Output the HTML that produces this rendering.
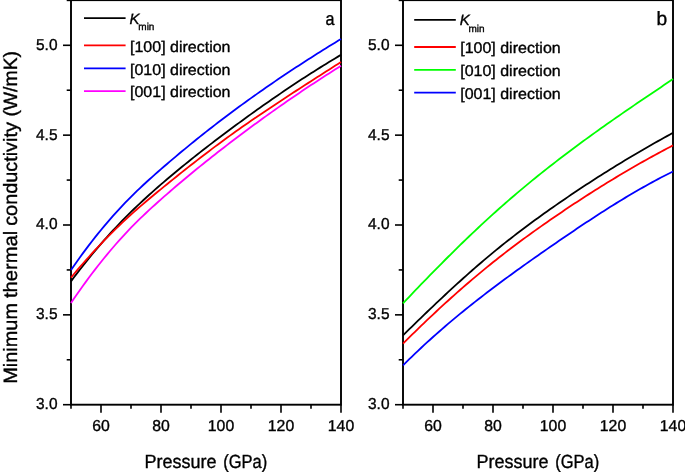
<!DOCTYPE html>
<html><head><meta charset="utf-8"><style>
html,body{margin:0;padding:0;background:#fff;}
svg{display:block;will-change:transform;}
text{font-family:"Liberation Sans",sans-serif;fill:#000;stroke:#000;stroke-width:0.35px;text-rendering:geometricPrecision;}
.tl{font-size:15.8px;}
.ttl{font-size:19px;}
.yl{font-size:19.3px;}
.lg{font-size:15.4px;}
.pl{font-size:19.2px;}
</style></head><body>
<svg width="685" height="474" viewBox="0 0 685 474">
<rect width="685" height="474" fill="#fff"/>
<rect x="71.0" y="0.15" width="270" height="404.55" fill="none" stroke="#000" stroke-width="1.9"/>
<line x1="63.0" y1="404.70" x2="71.0" y2="404.70" stroke="#000" stroke-width="1.6"/>
<text x="57.5" y="409.10" class="tl" text-anchor="end" textLength="21.5" lengthAdjust="spacingAndGlyphs">3.0</text>
<line x1="66.7" y1="359.77" x2="71.0" y2="359.77" stroke="#000" stroke-width="1.6"/>
<line x1="63.0" y1="314.85" x2="71.0" y2="314.85" stroke="#000" stroke-width="1.6"/>
<text x="57.5" y="319.25" class="tl" text-anchor="end" textLength="21.5" lengthAdjust="spacingAndGlyphs">3.5</text>
<line x1="66.7" y1="269.93" x2="71.0" y2="269.93" stroke="#000" stroke-width="1.6"/>
<line x1="63.0" y1="225.00" x2="71.0" y2="225.00" stroke="#000" stroke-width="1.6"/>
<text x="57.5" y="229.40" class="tl" text-anchor="end" textLength="21.5" lengthAdjust="spacingAndGlyphs">4.0</text>
<line x1="66.7" y1="180.07" x2="71.0" y2="180.07" stroke="#000" stroke-width="1.6"/>
<line x1="63.0" y1="135.15" x2="71.0" y2="135.15" stroke="#000" stroke-width="1.6"/>
<text x="57.5" y="139.55" class="tl" text-anchor="end" textLength="21.5" lengthAdjust="spacingAndGlyphs">4.5</text>
<line x1="66.7" y1="90.23" x2="71.0" y2="90.23" stroke="#000" stroke-width="1.6"/>
<line x1="63.0" y1="45.30" x2="71.0" y2="45.30" stroke="#000" stroke-width="1.6"/>
<text x="57.5" y="49.70" class="tl" text-anchor="end" textLength="21.5" lengthAdjust="spacingAndGlyphs">5.0</text>
<line x1="66.7" y1="0.38" x2="71.0" y2="0.38" stroke="#000" stroke-width="1.6"/>
<line x1="71.0" y1="404.70" x2="71.0" y2="408.70" stroke="#000" stroke-width="1.6"/>
<line x1="101.0" y1="404.70" x2="101.0" y2="412.70" stroke="#000" stroke-width="1.6"/>
<text x="101.0" y="430.60" class="tl" text-anchor="middle">60</text>
<line x1="131.0" y1="404.70" x2="131.0" y2="408.70" stroke="#000" stroke-width="1.6"/>
<line x1="161.0" y1="404.70" x2="161.0" y2="412.70" stroke="#000" stroke-width="1.6"/>
<text x="161.0" y="430.60" class="tl" text-anchor="middle">80</text>
<line x1="191.0" y1="404.70" x2="191.0" y2="408.70" stroke="#000" stroke-width="1.6"/>
<line x1="221.0" y1="404.70" x2="221.0" y2="412.70" stroke="#000" stroke-width="1.6"/>
<text x="221.0" y="430.60" class="tl" text-anchor="middle">100</text>
<line x1="251.0" y1="404.70" x2="251.0" y2="408.70" stroke="#000" stroke-width="1.6"/>
<line x1="281.0" y1="404.70" x2="281.0" y2="412.70" stroke="#000" stroke-width="1.6"/>
<text x="281.0" y="430.60" class="tl" text-anchor="middle">120</text>
<line x1="311.0" y1="404.70" x2="311.0" y2="408.70" stroke="#000" stroke-width="1.6"/>
<line x1="341.0" y1="404.70" x2="341.0" y2="412.70" stroke="#000" stroke-width="1.6"/>
<text x="341.0" y="430.60" class="tl" text-anchor="middle">140</text>
<text x="144.40" y="467.6" class="ttl" textLength="72.10" lengthAdjust="spacingAndGlyphs">Pressure</text>
<text x="223.30" y="467.6" class="ttl" textLength="44.00" lengthAdjust="spacingAndGlyphs">(GPa)</text>
<text x="325.40" y="25" class="pl" style="font-size:18.4px" textLength="9.0" lengthAdjust="spacingAndGlyphs">a</text>
<line x1="84.0" y1="18.20" x2="125.6" y2="18.20" stroke="#000000" stroke-width="1.8"/>
<text x="129.5" y="23.80" class="lg"><tspan font-style="italic" font-size="15">K</tspan><tspan font-size="10" dx="-1.2" dy="6.2">min</tspan></text>
<line x1="84.0" y1="45.40" x2="125.6" y2="45.40" stroke="#ff0000" stroke-width="1.8"/>
<text x="130.0" y="51.60" class="lg" textLength="100.5" lengthAdjust="spacingAndGlyphs">[100] direction</text>
<line x1="84.0" y1="68.30" x2="125.6" y2="68.30" stroke="#0000ff" stroke-width="1.8"/>
<text x="130.0" y="74.50" class="lg" textLength="100.5" lengthAdjust="spacingAndGlyphs">[010] direction</text>
<line x1="84.0" y1="91.10" x2="125.6" y2="91.10" stroke="#ff00ff" stroke-width="1.8"/>
<text x="130.0" y="97.30" class="lg" textLength="100.5" lengthAdjust="spacingAndGlyphs">[001] direction</text>
<rect x="403.0" y="0.15" width="270" height="404.55" fill="none" stroke="#000" stroke-width="1.9"/>
<line x1="395.0" y1="404.70" x2="403.0" y2="404.70" stroke="#000" stroke-width="1.6"/>
<text x="389.5" y="409.10" class="tl" text-anchor="end" textLength="21.5" lengthAdjust="spacingAndGlyphs">3.0</text>
<line x1="398.7" y1="359.77" x2="403.0" y2="359.77" stroke="#000" stroke-width="1.6"/>
<line x1="395.0" y1="314.85" x2="403.0" y2="314.85" stroke="#000" stroke-width="1.6"/>
<text x="389.5" y="319.25" class="tl" text-anchor="end" textLength="21.5" lengthAdjust="spacingAndGlyphs">3.5</text>
<line x1="398.7" y1="269.93" x2="403.0" y2="269.93" stroke="#000" stroke-width="1.6"/>
<line x1="395.0" y1="225.00" x2="403.0" y2="225.00" stroke="#000" stroke-width="1.6"/>
<text x="389.5" y="229.40" class="tl" text-anchor="end" textLength="21.5" lengthAdjust="spacingAndGlyphs">4.0</text>
<line x1="398.7" y1="180.07" x2="403.0" y2="180.07" stroke="#000" stroke-width="1.6"/>
<line x1="395.0" y1="135.15" x2="403.0" y2="135.15" stroke="#000" stroke-width="1.6"/>
<text x="389.5" y="139.55" class="tl" text-anchor="end" textLength="21.5" lengthAdjust="spacingAndGlyphs">4.5</text>
<line x1="398.7" y1="90.23" x2="403.0" y2="90.23" stroke="#000" stroke-width="1.6"/>
<line x1="395.0" y1="45.30" x2="403.0" y2="45.30" stroke="#000" stroke-width="1.6"/>
<text x="389.5" y="49.70" class="tl" text-anchor="end" textLength="21.5" lengthAdjust="spacingAndGlyphs">5.0</text>
<line x1="398.7" y1="0.38" x2="403.0" y2="0.38" stroke="#000" stroke-width="1.6"/>
<line x1="403.0" y1="404.70" x2="403.0" y2="408.70" stroke="#000" stroke-width="1.6"/>
<line x1="433.0" y1="404.70" x2="433.0" y2="412.70" stroke="#000" stroke-width="1.6"/>
<text x="433.0" y="430.60" class="tl" text-anchor="middle">60</text>
<line x1="463.0" y1="404.70" x2="463.0" y2="408.70" stroke="#000" stroke-width="1.6"/>
<line x1="493.0" y1="404.70" x2="493.0" y2="412.70" stroke="#000" stroke-width="1.6"/>
<text x="493.0" y="430.60" class="tl" text-anchor="middle">80</text>
<line x1="523.0" y1="404.70" x2="523.0" y2="408.70" stroke="#000" stroke-width="1.6"/>
<line x1="553.0" y1="404.70" x2="553.0" y2="412.70" stroke="#000" stroke-width="1.6"/>
<text x="553.0" y="430.60" class="tl" text-anchor="middle">100</text>
<line x1="583.0" y1="404.70" x2="583.0" y2="408.70" stroke="#000" stroke-width="1.6"/>
<line x1="613.0" y1="404.70" x2="613.0" y2="412.70" stroke="#000" stroke-width="1.6"/>
<text x="613.0" y="430.60" class="tl" text-anchor="middle">120</text>
<line x1="643.0" y1="404.70" x2="643.0" y2="408.70" stroke="#000" stroke-width="1.6"/>
<line x1="673.0" y1="404.70" x2="673.0" y2="412.70" stroke="#000" stroke-width="1.6"/>
<text x="673.0" y="430.60" class="tl" text-anchor="middle">140</text>
<text x="476.40" y="467.6" class="ttl" textLength="72.10" lengthAdjust="spacingAndGlyphs">Pressure</text>
<text x="555.30" y="467.6" class="ttl" textLength="44.00" lengthAdjust="spacingAndGlyphs">(GPa)</text>
<text x="667.2" y="25" class="pl" text-anchor="end">b</text>
<line x1="414.2" y1="19.80" x2="455.8" y2="19.80" stroke="#000000" stroke-width="1.8"/>
<text x="459.7" y="25.40" class="lg"><tspan font-style="italic" font-size="15">K</tspan><tspan font-size="10" dx="-1.2" dy="6.2">min</tspan></text>
<line x1="414.2" y1="47.00" x2="455.8" y2="47.00" stroke="#ff0000" stroke-width="1.8"/>
<text x="460.2" y="53.20" class="lg" textLength="100.5" lengthAdjust="spacingAndGlyphs">[100] direction</text>
<line x1="414.2" y1="69.90" x2="455.8" y2="69.90" stroke="#00ff00" stroke-width="1.8"/>
<text x="460.2" y="76.10" class="lg" textLength="100.5" lengthAdjust="spacingAndGlyphs">[010] direction</text>
<line x1="414.2" y1="92.70" x2="455.8" y2="92.70" stroke="#0000ff" stroke-width="1.8"/>
<text x="460.2" y="98.90" class="lg" textLength="100.5" lengthAdjust="spacingAndGlyphs">[001] direction</text>
<polyline fill="none" stroke="#0000ff" stroke-width="1.8" stroke-linejoin="round" points="71.00,270.03 74.00,265.69 77.00,261.43 80.00,257.25 83.00,253.14 86.00,249.10 89.00,245.14 92.00,241.25 95.00,237.42 98.00,233.67 101.00,229.99 104.00,226.38 107.00,222.83 110.00,219.36 113.00,215.95 116.00,212.60 119.00,209.32 122.00,206.10 125.00,202.95 128.00,199.86 131.00,196.83 134.00,193.86 137.00,190.95 140.00,188.08 143.00,185.27 146.00,182.50 149.00,179.77 152.00,177.08 155.00,174.41 158.00,171.77 161.00,169.15 164.00,166.55 167.00,163.97 170.00,161.41 173.00,158.86 176.00,156.32 179.00,153.81 182.00,151.31 185.00,148.83 188.00,146.36 191.00,143.91 194.00,141.48 197.00,139.06 200.00,136.66 203.00,134.27 206.00,131.90 209.00,129.54 212.00,127.20 215.00,124.88 218.00,122.57 221.00,120.28 224.00,118.00 227.00,115.73 230.00,113.48 233.00,111.25 236.00,109.02 239.00,106.82 242.00,104.62 245.00,102.44 248.00,100.28 251.00,98.13 254.00,95.99 257.00,93.86 260.00,91.75 263.00,89.65 266.00,87.56 269.00,85.49 272.00,83.42 275.00,81.37 278.00,79.33 281.00,77.31 284.00,75.29 287.00,73.29 290.00,71.30 293.00,69.32 296.00,67.35 299.00,65.39 302.00,63.44 305.00,61.50 308.00,59.57 311.00,57.66 314.00,55.75 317.00,53.85 320.00,51.96 323.00,50.09 326.00,48.22 329.00,46.36 332.00,44.51 335.00,42.67 338.00,40.83 341.00,39.01"/>
<polyline fill="none" stroke="#000000" stroke-width="1.8" stroke-linejoin="round" points="71.00,281.35 74.00,277.32 77.00,273.35 80.00,269.45 83.00,265.60 86.00,261.83 89.00,258.11 92.00,254.45 95.00,250.85 98.00,247.31 101.00,243.83 104.00,240.40 107.00,237.03 110.00,233.71 113.00,230.45 116.00,227.24 119.00,224.07 122.00,220.96 125.00,217.90 128.00,214.89 131.00,211.92 134.00,209.00 137.00,206.13 140.00,203.29 143.00,200.50 146.00,197.74 149.00,195.02 152.00,192.33 155.00,189.67 158.00,187.04 161.00,184.43 164.00,181.84 167.00,179.28 170.00,176.74 173.00,174.23 176.00,171.73 179.00,169.25 182.00,166.79 185.00,164.35 188.00,161.93 191.00,159.52 194.00,157.13 197.00,154.76 200.00,152.40 203.00,150.06 206.00,147.73 209.00,145.41 212.00,143.11 215.00,140.82 218.00,138.54 221.00,136.27 224.00,134.01 227.00,131.76 230.00,129.52 233.00,127.29 236.00,125.07 239.00,122.87 242.00,120.67 245.00,118.48 248.00,116.31 251.00,114.14 254.00,111.99 257.00,109.85 260.00,107.71 263.00,105.59 266.00,103.49 269.00,101.39 272.00,99.30 275.00,97.23 278.00,95.17 281.00,93.12 284.00,91.08 287.00,89.06 290.00,87.05 293.00,85.05 296.00,83.06 299.00,81.08 302.00,79.12 305.00,77.17 308.00,75.24 311.00,73.31 314.00,71.40 317.00,69.51 320.00,67.62 323.00,65.75 326.00,63.90 329.00,62.05 332.00,60.23 335.00,58.41 338.00,56.61 341.00,54.82"/>
<polyline fill="none" stroke="#ff0000" stroke-width="1.8" stroke-linejoin="round" points="71.00,277.57 74.00,273.99 77.00,270.45 80.00,266.95 83.00,263.51 86.00,260.11 89.00,256.76 92.00,253.46 95.00,250.21 98.00,246.99 101.00,243.83 104.00,240.71 107.00,237.64 110.00,234.61 113.00,231.62 116.00,228.68 119.00,225.78 122.00,222.93 125.00,220.11 128.00,217.34 131.00,214.62 134.00,211.93 137.00,209.29 140.00,206.68 143.00,204.10 146.00,201.55 149.00,199.02 152.00,196.52 155.00,194.03 158.00,191.56 161.00,189.10 164.00,186.65 167.00,184.21 170.00,181.78 173.00,179.35 176.00,176.94 179.00,174.54 182.00,172.15 185.00,169.76 188.00,167.39 191.00,165.04 194.00,162.69 197.00,160.36 200.00,158.04 203.00,155.73 206.00,153.44 209.00,151.16 212.00,148.90 215.00,146.65 218.00,144.42 221.00,142.20 224.00,140.00 227.00,137.81 230.00,135.64 233.00,133.49 236.00,131.35 239.00,129.22 242.00,127.11 245.00,125.01 248.00,122.92 251.00,120.85 254.00,118.78 257.00,116.73 260.00,114.69 263.00,112.66 266.00,110.64 269.00,108.63 272.00,106.63 275.00,104.63 278.00,102.65 281.00,100.67 284.00,98.70 287.00,96.73 290.00,94.78 293.00,92.82 296.00,90.88 299.00,88.93 302.00,87.00 305.00,85.06 308.00,83.13 311.00,81.21 314.00,79.28 317.00,77.36 320.00,75.44 323.00,73.52 326.00,71.61 329.00,69.69 332.00,67.77 335.00,65.85 338.00,63.93 341.00,62.01"/>
<polyline fill="none" stroke="#ff00ff" stroke-width="1.8" stroke-linejoin="round" points="71.00,302.91 74.00,298.51 77.00,294.18 80.00,289.92 83.00,285.73 86.00,281.60 89.00,277.54 92.00,273.55 95.00,269.63 98.00,265.77 101.00,261.98 104.00,258.26 107.00,254.60 110.00,251.01 113.00,247.49 116.00,244.03 119.00,240.64 122.00,237.31 125.00,234.05 128.00,230.86 131.00,227.74 134.00,224.67 137.00,221.67 140.00,218.73 143.00,215.84 146.00,213.00 149.00,210.20 152.00,207.44 155.00,204.71 158.00,202.01 161.00,199.34 164.00,196.69 167.00,194.07 170.00,191.46 173.00,188.87 176.00,186.30 179.00,183.75 182.00,181.21 185.00,178.70 188.00,176.20 191.00,173.72 194.00,171.25 197.00,168.81 200.00,166.37 203.00,163.96 206.00,161.55 209.00,159.17 212.00,156.79 215.00,154.43 218.00,152.08 221.00,149.75 224.00,147.42 227.00,145.11 230.00,142.81 233.00,140.52 236.00,138.25 239.00,135.99 242.00,133.73 245.00,131.49 248.00,129.27 251.00,127.05 254.00,124.85 257.00,122.65 260.00,120.47 263.00,118.30 266.00,116.14 269.00,113.99 272.00,111.86 275.00,109.73 278.00,107.62 281.00,105.52 284.00,103.43 287.00,101.35 290.00,99.28 293.00,97.22 296.00,95.18 299.00,93.14 302.00,91.12 305.00,89.11 308.00,87.10 311.00,85.11 314.00,83.13 317.00,81.16 320.00,79.20 323.00,77.25 326.00,75.32 329.00,73.39 332.00,71.47 335.00,69.57 338.00,67.67 341.00,65.79"/>
<polyline fill="none" stroke="#00ff00" stroke-width="1.8" stroke-linejoin="round" points="403.00,303.37 406.00,300.20 409.00,297.04 412.00,293.88 415.00,290.74 418.00,287.61 421.00,284.49 424.00,281.39 427.00,278.29 430.00,275.21 433.00,272.14 436.00,269.09 439.00,266.05 442.00,263.02 445.00,260.01 448.00,257.01 451.00,254.03 454.00,251.06 457.00,248.12 460.00,245.18 463.00,242.27 466.00,239.37 469.00,236.49 472.00,233.63 475.00,230.79 478.00,227.97 481.00,225.16 484.00,222.38 487.00,219.62 490.00,216.88 493.00,214.16 496.00,211.46 499.00,208.78 502.00,206.13 505.00,203.49 508.00,200.88 511.00,198.28 514.00,195.71 517.00,193.16 520.00,190.62 523.00,188.10 526.00,185.61 529.00,183.13 532.00,180.67 535.00,178.22 538.00,175.80 541.00,173.39 544.00,171.00 547.00,168.62 550.00,166.26 553.00,163.92 556.00,161.60 559.00,159.28 562.00,156.99 565.00,154.71 568.00,152.44 571.00,150.19 574.00,147.95 577.00,145.72 580.00,143.50 583.00,141.30 586.00,139.11 589.00,136.93 592.00,134.77 595.00,132.61 598.00,130.46 601.00,128.33 604.00,126.20 607.00,124.08 610.00,121.98 613.00,119.88 616.00,117.78 619.00,115.70 622.00,113.62 625.00,111.55 628.00,109.49 631.00,107.43 634.00,105.38 637.00,103.34 640.00,101.30 643.00,99.26 646.00,97.23 649.00,95.20 652.00,93.18 655.00,91.16 658.00,89.14 661.00,87.13 664.00,85.11 667.00,83.10 670.00,81.09 673.00,79.08"/>
<polyline fill="none" stroke="#000000" stroke-width="1.8" stroke-linejoin="round" points="403.00,335.36 406.00,332.41 409.00,329.47 412.00,326.53 415.00,323.61 418.00,320.70 421.00,317.79 424.00,314.90 427.00,312.01 430.00,309.14 433.00,306.29 436.00,303.44 439.00,300.61 442.00,297.79 445.00,294.99 448.00,292.20 451.00,289.43 454.00,286.67 457.00,283.93 460.00,281.21 463.00,278.51 466.00,275.83 469.00,273.16 472.00,270.52 475.00,267.89 478.00,265.29 481.00,262.71 484.00,260.15 487.00,257.62 490.00,255.10 493.00,252.61 496.00,250.15 499.00,247.71 502.00,245.29 505.00,242.90 508.00,240.53 511.00,238.18 514.00,235.85 517.00,233.54 520.00,231.26 523.00,228.99 526.00,226.74 529.00,224.50 532.00,222.29 535.00,220.09 538.00,217.91 541.00,215.75 544.00,213.60 547.00,211.46 550.00,209.34 553.00,207.23 556.00,205.13 559.00,203.05 562.00,200.98 565.00,198.92 568.00,196.88 571.00,194.85 574.00,192.83 577.00,190.82 580.00,188.82 583.00,186.84 586.00,184.87 589.00,182.91 592.00,180.96 595.00,179.03 598.00,177.11 601.00,175.20 604.00,173.30 607.00,171.41 610.00,169.54 613.00,167.68 616.00,165.82 619.00,163.99 622.00,162.16 625.00,160.34 628.00,158.54 631.00,156.74 634.00,154.96 637.00,153.19 640.00,151.43 643.00,149.68 646.00,147.95 649.00,146.22 652.00,144.51 655.00,142.80 658.00,141.11 661.00,139.43 664.00,137.76 667.00,136.10 670.00,134.45 673.00,132.81"/>
<polyline fill="none" stroke="#ff0000" stroke-width="1.8" stroke-linejoin="round" points="403.00,343.62 406.00,340.63 409.00,337.66 412.00,334.71 415.00,331.77 418.00,328.86 421.00,325.96 424.00,323.08 427.00,320.22 430.00,317.37 433.00,314.55 436.00,311.75 439.00,308.96 442.00,306.20 445.00,303.45 448.00,300.73 451.00,298.02 454.00,295.34 457.00,292.67 460.00,290.03 463.00,287.40 466.00,284.80 469.00,282.22 472.00,279.66 475.00,277.12 478.00,274.60 481.00,272.10 484.00,269.62 487.00,267.16 490.00,264.73 493.00,262.32 496.00,259.93 499.00,257.56 502.00,255.21 505.00,252.88 508.00,250.58 511.00,248.29 514.00,246.02 517.00,243.77 520.00,241.54 523.00,239.32 526.00,237.12 529.00,234.94 532.00,232.77 535.00,230.62 538.00,228.49 541.00,226.36 544.00,224.26 547.00,222.16 550.00,220.08 553.00,218.01 556.00,215.95 559.00,213.91 562.00,211.88 565.00,209.86 568.00,207.85 571.00,205.85 574.00,203.86 577.00,201.89 580.00,199.93 583.00,197.98 586.00,196.05 589.00,194.12 592.00,192.21 595.00,190.31 598.00,188.42 601.00,186.55 604.00,184.69 607.00,182.84 610.00,181.00 613.00,179.18 616.00,177.36 619.00,175.57 622.00,173.78 625.00,172.01 628.00,170.25 631.00,168.50 634.00,166.76 637.00,165.04 640.00,163.33 643.00,161.63 646.00,159.95 649.00,158.28 652.00,156.62 655.00,154.98 658.00,153.35 661.00,151.73 664.00,150.13 667.00,148.54 670.00,146.96 673.00,145.39"/>
<polyline fill="none" stroke="#0000ff" stroke-width="1.8" stroke-linejoin="round" points="403.00,365.37 406.00,362.39 409.00,359.44 412.00,356.53 415.00,353.64 418.00,350.80 421.00,347.98 424.00,345.19 427.00,342.44 430.00,339.71 433.00,337.01 436.00,334.34 439.00,331.70 442.00,329.09 445.00,326.50 448.00,323.93 451.00,321.39 454.00,318.88 457.00,316.38 460.00,313.91 463.00,311.46 466.00,309.04 469.00,306.63 472.00,304.24 475.00,301.87 478.00,299.52 481.00,297.19 484.00,294.87 487.00,292.57 490.00,290.29 493.00,288.02 496.00,285.76 499.00,283.52 502.00,281.29 505.00,279.07 508.00,276.87 511.00,274.67 514.00,272.49 517.00,270.32 520.00,268.16 523.00,266.01 526.00,263.87 529.00,261.74 532.00,259.62 535.00,257.50 538.00,255.40 541.00,253.30 544.00,251.21 547.00,249.12 550.00,247.04 553.00,244.97 556.00,242.90 559.00,240.84 562.00,238.78 565.00,236.73 568.00,234.69 571.00,232.65 574.00,230.63 577.00,228.61 580.00,226.60 583.00,224.60 586.00,222.61 589.00,220.63 592.00,218.66 595.00,216.70 598.00,214.76 601.00,212.83 604.00,210.91 607.00,209.00 610.00,207.11 613.00,205.23 616.00,203.37 619.00,201.52 622.00,199.69 625.00,197.88 628.00,196.08 631.00,194.30 634.00,192.53 637.00,190.79 640.00,189.06 643.00,187.36 646.00,185.67 649.00,184.00 652.00,182.35 655.00,180.73 658.00,179.13 661.00,177.54 664.00,175.99 667.00,174.45 670.00,172.94 673.00,171.45"/>
<text transform="translate(17.0,383.70) rotate(-90)" class="yl" textLength="80.70" lengthAdjust="spacingAndGlyphs">Minimum</text>
<text transform="translate(17.0,298.00) rotate(-90)" class="yl" textLength="67.20" lengthAdjust="spacingAndGlyphs">thermal</text>
<text transform="translate(17.0,225.80) rotate(-90)" class="yl" textLength="103.70" lengthAdjust="spacingAndGlyphs">conductivity</text>
<text transform="translate(17.0,116.60) rotate(-90)" class="yl" textLength="65.60" lengthAdjust="spacingAndGlyphs">(W/mK)</text>
</svg>
</body></html>
